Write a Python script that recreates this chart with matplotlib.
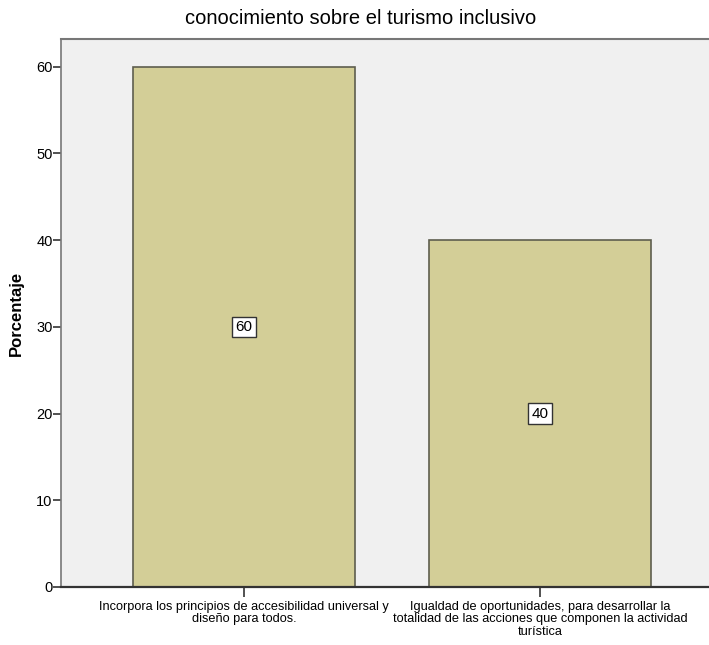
import matplotlib
matplotlib.use("Agg")
import matplotlib.pyplot as plt
from matplotlib import font_manager

categories = [
    "Incorpora los principios de accesibilidad universal y\ndiseño para todos.",
    "Igualdad de oportunidades, para desarrollar la\ntotalidad de las acciones que componen la actividad\nturística",
]
porcentaje = [60, 40]
y_ticks = [0, 10, 20, 30, 40, 50, 60]

names = {f.name for f in font_manager.fontManager.ttflist}
narrow = "Liberation Sans Narrow" if "Liberation Sans Narrow" in names else "Liberation Sans"
plt.rcParams["font.family"] = [narrow, "DejaVu Sans"]

fig = plt.figure(figsize=(7.09, 6.45), dpi=100)
ax = fig.add_axes([61 / 709, 1 - 587 / 645, (709 - 61) / 709, (587 - 39) / 645])
ax.set_facecolor("#f0f0f0")

x = list(range(len(categories)))
bars = ax.bar(x, porcentaje, width=0.75, color="#d3ce97", edgecolor="#5e5e4e", linewidth=1.2, zorder=2)

for xi, v in zip(x, porcentaje):
    ax.text(xi, v / 2, f"{v}", ha="center", va="center", fontsize=11, zorder=3,
            bbox=dict(boxstyle="square,pad=0.22", fc="white", ec="#333333", lw=1.0))

ax.set_xlim(-0.618, 1.571)
ax.set_ylim(0, 63.2)
ax.set_yticks(y_ticks)
ax.set_xticks(x)
ax.set_xticklabels(categories, fontsize=9.2, linespacing=1.05)
ax.tick_params(axis="y", labelsize=10.5, length=6, width=1.2, color="#333333", pad=0)
ax.tick_params(axis="x", length=7, width=1.2, color="#333333", pad=3)

ax.spines["bottom"].set_color("#333333")
ax.spines["bottom"].set_linewidth(1.6)
ax.spines["left"].set_color("#777777")
ax.spines["left"].set_linewidth(1.2)
ax.spines["top"].set_color("#777777")
ax.spines["top"].set_linewidth(1.5)
ax.spines["right"].set_visible(False)

ax.set_ylabel("Porcentaje", fontsize=12, fontweight="bold", family=["Liberation Sans", "DejaVu Sans"], labelpad=9)
fig.text(361 / 709, 1 - 19 / 645, "conocimiento sobre el turismo inclusivo",
         ha="center", va="center", fontsize=14.5)

fig.savefig("out.png", dpi=100)
